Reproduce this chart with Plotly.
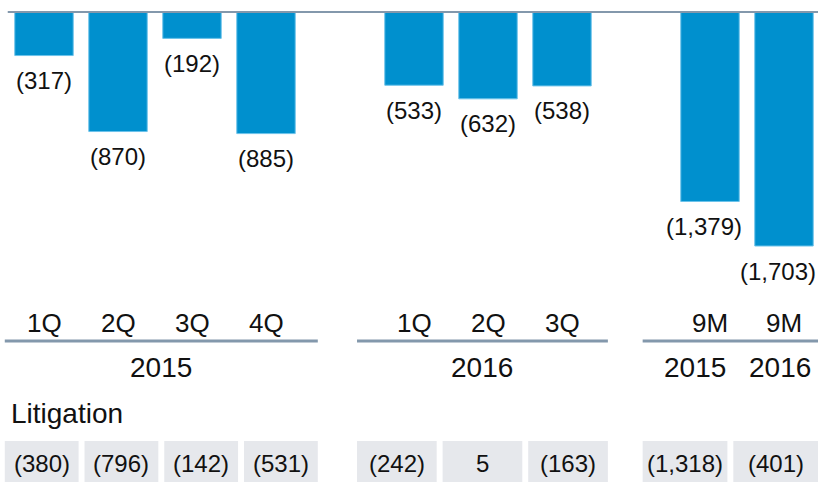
import plotly.graph_objects as go

# ================================
# Dados
# ================================
periodos = ["1Q", "2Q", "3Q", "4Q", "1Q", "2Q", "3Q", "9M", "9M"]
anos = ["2015", "2015", "2015", "2015", "2016", "2016", "2016", "2015", "2016"]
grupo = [0, 0, 0, 0, 1, 1, 1, 2, 2]
valores = [-317, -870, -192, -885, -533, -632, -538, -1379, -1703]
litigation = [-380, -796, -142, -531, -242, 5, -163, -1318, -401]
grupo_titulo = ["2015", "2016", None]

# ================================
# Estilo
# ================================
AZUL = "#0090CE"
LINHA = "#8398AC"
CAIXA = "#E6E8EC"
TEXTO = "#111111"
FONTE = "Liberation Sans, Arial, sans-serif"

W, H = 818, 482

# extensão horizontal de cada grupo (em unidades do eixo x)
grupo_span = [(-0.53, 3.70), (4.23, 7.62), (8.09, 10.46)]


def py(y):
    # pixel vertical -> coordenada paper
    return 1 - y / H


def fmt(v):
    if v < 0:
        return "({:,})".format(-v)
    return "{:,}".format(v)


# posição no eixo: um espaço vazio entre grupos
xs = [i + g for i, g in enumerate(grupo)]

fig = go.Figure()
fig.add_trace(go.Bar(
    x=xs, y=valores, width=0.79,
    marker=dict(color=AZUL, line=dict(color="#6cc3ea", width=1)),
    hoverinfo="skip",
))

# linha do zero
fig.add_shape(type="line", xref="x", yref="y", x0=-0.49, x1=10.46, y0=0, y1=0,
              line=dict(color=LINHA, width=2))

anns = []
# rótulos das barras
for k, (x, v) in enumerate(zip(xs, valores)):
    anns.append(dict(x=x, y=v, xref="x", yref="y", text=fmt(v), showarrow=False,
                     yanchor="middle", yshift=-25, font=dict(size=24),
                     xshift=-6 if grupo[k] == 2 else 0))

# rótulos de período
for k, (x, p) in enumerate(zip(xs, periodos)):
    anns.append(dict(x=x, y=py(323), xref="x", yref="paper", text=p,
                     showarrow=False, yanchor="middle", font=dict(size=26)))
    if grupo[k] == 2:
        anns.append(dict(x=x, y=py(367), xref="x", yref="paper", text=anos[k],
                         showarrow=False, yanchor="middle", font=dict(size=28),
                         xshift=-15 if anos[k] == "2015" else -4))

# linhas e títulos dos grupos
for g, (a, b) in enumerate(grupo_span):
    fig.add_shape(type="line", xref="x", yref="paper", x0=a, x1=b,
                  y0=py(341), y1=py(341), line=dict(color=LINHA, width=3))
    if grupo_titulo[g]:
        anns.append(dict(x=(a + b) / 2, y=py(367), xref="x", yref="paper",
                         text=grupo_titulo[g], showarrow=False, yanchor="middle",
                         font=dict(size=28)))

# linha "Litigation"
anns.append(dict(x=9 / W, y=py(413), xref="paper", yref="paper", text="Litigation",
                 showarrow=False, xanchor="left", yanchor="middle", font=dict(size=28)))

gap = 0.08
for g, (a, b) in enumerate(grupo_span):
    idx = [k for k in range(len(grupo)) if grupo[k] == g]
    n = len(idx)
    w = (b - a - gap * (n - 1)) / n
    for j, k in enumerate(idx):
        x0 = a + j * (w + gap)
        fig.add_shape(type="rect", xref="x", yref="paper", x0=x0, x1=x0 + w,
                      y0=0, y1=py(441), fillcolor=CAIXA, line=dict(width=0),
                      layer="below")
        anns.append(dict(x=x0 + w / 2, y=py(463), xref="x", yref="paper",
                         text=fmt(litigation[k]), showarrow=False, yanchor="middle",
                         font=dict(size=24)))

# eixo x: centro da barra i em 44 + 74*i px; zero do eixo y em 12 px
fig.update_layout(
    width=W, height=H,
    margin=dict(l=0, r=0, t=0, b=0),
    paper_bgcolor="white", plot_bgcolor="white",
    font=dict(family=FONTE, size=24, color=TEXTO),
    showlegend=False,
    annotations=anns,
    xaxis=dict(range=[-44 / 74, (W - 44) / 74], visible=False, fixedrange=True),
    yaxis=dict(range=[-1703 / 234 * (H - 12), 1703 / 234 * 12],
               visible=False, fixedrange=True),
)

fig.write_html("out.html", config={"displayModeBar": False},
               post_script="document.body.style.margin='0';"
                           "document.body.style.overflow='hidden';")
